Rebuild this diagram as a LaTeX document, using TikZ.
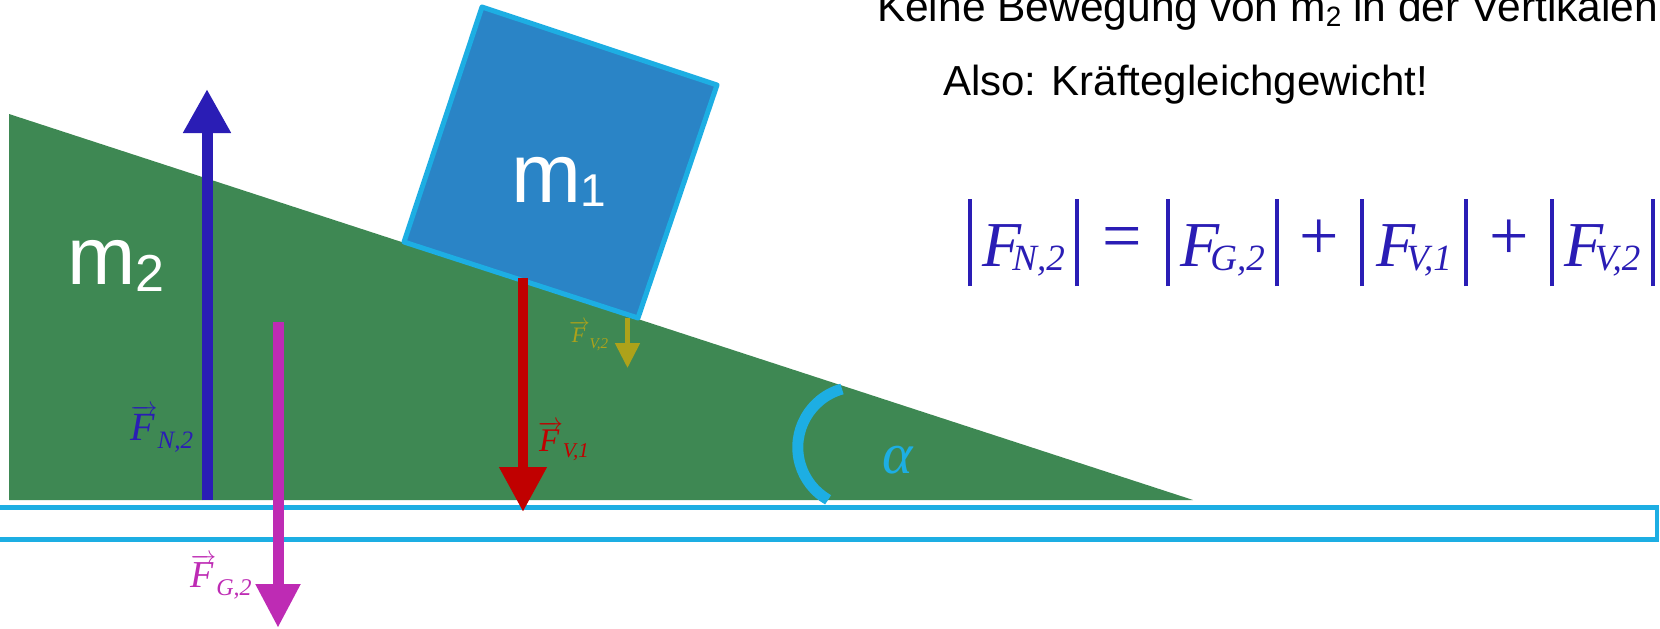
\documentclass[tikz,border=0pt]{standalone}
\usepackage{fontspec}
\setmainfont{Liberation Sans}
\newfontfamily\tms{Liberation Serif}
\usetikzlibrary{arrows.meta}
\definecolor{incl}{HTML}{3E8853}
\definecolor{boxfill}{HTML}{2A84C6}
\definecolor{lblue}{HTML}{1DAEE3}
\definecolor{nblue}{HTML}{2A1DB5}
\definecolor{gmag}{HTML}{BE2BB4}
\definecolor{vred}{HTML}{C00000}
\definecolor{volive}{HTML}{ADA21A}
% vector label: #1 F size, #2 sub size, #3 subscript, #4 lowering
\newcommand\vlab[4]{{\tms\fontsize{#1}{#1}\selectfont$\overrightarrow{\hbox{\itshape F\kern0.08em}}$\raisebox{-#4}{\fontsize{#2}{#2}\selectfont\itshape #3}}}
\newcommand\eqF[1]{{\itshape F\kern-9pt\raisebox{-4pt}{\fontsize{37pt}{37pt}\selectfont #1}}}
\newcommand\eqop[1]{\raisebox{7pt}{\fontsize{70pt}{70pt}\selectfont #1}}
\newcommand\absbar{\rule[-20pt]{3.5pt}{87pt}}
\tikzset{
  force/.style={line width=11pt},
  lbl/.style={anchor=base west, inner sep=0pt, outer sep=0pt},
}
\begin{document}
\begin{tikzpicture}[x=1pt,y=-1pt]
\clip (0,0) rectangle (1660,629);
\fill[white] (0,0) rectangle (1660,629);
% incline
\fill[incl] (9,114) -- (9,500) -- (1193,500) -- cycle;
% ground
\draw[lblue, line width=4.7pt, fill=white] (-5,507.7) rectangle (1657,539.5);
% block m1
\draw[lblue, line width=5pt, fill=boxfill, line join=round] (482,7) -- (717,85) -- (638,318) -- (404,242) -- cycle;
% forces
\draw[nblue, force, -{Triangle[width=45pt,length=44pt]}] (207,500) -- (207,89);
\draw[gmag, force, -{Triangle[width=42pt,length=44pt]}] (278,322) -- (278,628);
\draw[vred, line width=10.5pt, -{Triangle[width=45pt,length=45pt]}] (523,278) -- (523,512);
\draw[volive, line width=5pt, -{Triangle[width=24pt,length=25pt]}] (627.5,318) -- (627.5,368);
% angle
\draw[lblue, line width=11pt] (842,389) arc[start angle=-105.7, end angle=-240, radius=60.6];
\node[text=lblue, anchor=base, inner sep=0pt] (alpha) at (898,473) {\tms\itshape\fontsize{58pt}{58pt}\selectfont α};
% mass labels
\node[lbl, text=white] (m1) at (511,202) {\fontsize{84pt}{84pt}\selectfont m\raisebox{-4pt}{\fontsize{46pt}{46pt}\selectfont 1}};
\node[lbl, text=white] (m2) at (67.5,284) {\fontsize{82pt}{82pt}\selectfont m\raisebox{-7pt}{\fontsize{52pt}{52pt}\selectfont 2}};
% force labels
\node[lbl, text=nblue] (lFN) at (130,440) {\vlab{40pt}{25pt}{N,2}{8pt}};
\node[lbl, text=vred] (lFV1) at (538,451) {\vlab{33pt}{21pt}{V,1}{6pt}};
\node[lbl, text=gmag] (lFG) at (190,587) {\vlab{38pt}{24pt}{G,2}{8pt}};
\node[lbl, text=volive] (lFV2) at (569,342) {\vlab{22pt}{15pt}{V,2}{6pt}};
% texts
\node[lbl] (t1) at (877,21) {\fontsize{42.5pt}{42.5pt}\selectfont Keine Bewegung von m\raisebox{-5pt}{\fontsize{28pt}{28pt}\selectfont 2} in der Vertikalen};
\node[lbl] (t2) at (943,95) {\fontsize{42pt}{42pt}\selectfont Also: Kräftegleichgewicht!};
% equation
\node[lbl, text=nblue] (eq) at (968.25,266) {\tms\fontsize{64pt}{64pt}\selectfont
  \absbar\makebox[103.5pt]{\eqF{N,2}}\absbar\makebox[87.5pt]{\eqop{=}}%
  \absbar\makebox[105.5pt]{\eqF{G,2}}\absbar\makebox[81.5pt]{\eqop{+}}%
  \absbar\makebox[100.5pt]{\eqF{V,1}}\absbar\makebox[82.5pt]{\eqop{+}}%
  \absbar\makebox[97.5pt]{\eqF{V,2}}\absbar};
\end{tikzpicture}
\end{document}
